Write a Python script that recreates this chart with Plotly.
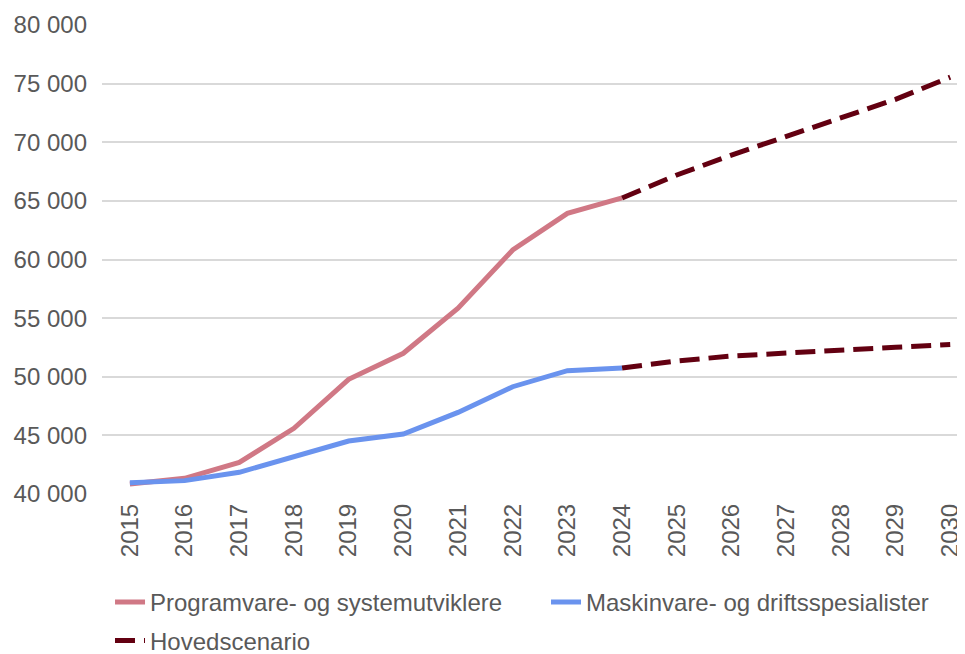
import plotly.graph_objects as go

years_hist = [2015, 2016, 2017, 2018, 2019, 2020, 2021, 2022, 2023, 2024]
programvare = [40850, 41340, 42700, 45600, 49780, 52000, 55840, 60810, 63940, 65250]
maskinvare = [40970, 41140, 41850, 43130, 44520, 45120, 46960, 49150, 50520, 50750]

years_proj = [2024, 2025, 2026, 2027, 2028, 2029, 2030]
proj_programvare = [65250, 67210, 68910, 70530, 72040, 73660, 75550]
proj_maskinvare = [50750, 51340, 51770, 52050, 52280, 52510, 52750]

x_ticks = list(range(2015, 2031))
y_ticks = [40000, 45000, 50000, 55000, 60000, 65000, 70000, 75000, 80000]
y_ticktext = ["40 000", "45 000", "50 000", "55 000", "60 000", "65 000", "70 000", "75 000", "80 000"]

PINK = "#d07885"
BLUE = "#6a93ee"
DARK = "#630011"
FONT = "Liberation Sans, Arial, sans-serif"
GREY = "#595959"
FS = 24

fig = go.Figure()
fig.add_trace(go.Scatter(x=years_hist, y=programvare, mode="lines",
                         name="Programvare- og systemutviklere", legend="legend",
                         line=dict(color=PINK, width=5)))
fig.add_trace(go.Scatter(x=years_hist, y=maskinvare, mode="lines",
                         name="Maskinvare- og driftsspesialister", legend="legend3",
                         line=dict(color=BLUE, width=5)))
fig.add_trace(go.Scatter(x=years_proj, y=proj_programvare, mode="lines",
                         name="Hovedscenario", legendgroup="hs", legend="legend2",
                         line=dict(color=DARK, width=5, dash="20px,9px")))
fig.add_trace(go.Scatter(x=years_proj, y=proj_maskinvare, mode="lines",
                         name="Hovedscenario", legendgroup="hs", showlegend=False,
                         legend="legend2",
                         line=dict(color=DARK, width=5, dash="20px,9px")))

leg_common = dict(orientation="h", xanchor="left", yanchor="top",
                  font=dict(family=FONT, size=FS, color=GREY))
fig.update_layout(
    width=957, height=646,
    margin=dict(l=94, r=0, t=17, b=160, autoexpand=False),
    paper_bgcolor="white", plot_bgcolor="white",
    font=dict(family=FONT, size=FS, color=GREY),
    legend=dict(x=0.0093, y=-0.183, **leg_common),
    legend3=dict(x=0.5145, y=-0.183, **leg_common),
    legend2=dict(x=0.0093, y=-0.265, **leg_common),
    showlegend=True,
)
fig.update_xaxes(range=[2014.49, 2030.27], tickmode="array", tickvals=x_ticks,
                 ticktext=[str(v) for v in x_ticks], tickangle=-90,
                 showgrid=False, zeroline=False, showline=False, ticks="",
                 ticklabelstandoff=4,
                 tickfont=dict(family=FONT, size=FS, color=GREY))
fig.update_yaxes(range=[40000, 80000], tickmode="array", tickvals=y_ticks,
                 ticktext=y_ticktext, showgrid=True, gridcolor="#d9d9d9", gridwidth=2,
                 zeroline=False, showline=False, ticks="", ticklabelstandoff=14,
                 tickfont=dict(family=FONT, size=FS, color=GREY))

fig.write_html("out.html")
